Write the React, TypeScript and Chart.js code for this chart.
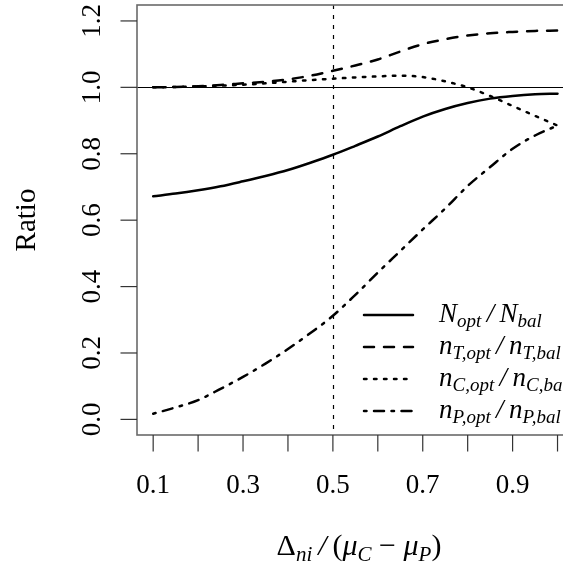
import React, { useEffect, useRef } from "react";
import { Chart, registerables } from "chart.js";
Chart.register(...registerables);

// ---------- data ----------
const xValues = [0.1, 0.15, 0.2, 0.25, 0.3, 0.35, 0.4, 0.45, 0.5, 0.55, 0.6, 0.65, 0.7, 0.75, 0.8, 0.85, 0.9, 0.95, 1.0];
const nTotalRatio = [0.672, 0.68, 0.69, 0.702, 0.717, 0.733, 0.751, 0.773, 0.797, 0.824, 0.852, 0.883, 0.912, 0.935, 0.953, 0.966, 0.974, 0.979, 0.981];
const nTRatio = [1.0, 1.001, 1.003, 1.007, 1.012, 1.017, 1.024, 1.035, 1.05, 1.066, 1.084, 1.108, 1.13, 1.145, 1.156, 1.163, 1.167, 1.17, 1.171];
const nCRatio = [1.0, 1.001, 1.003, 1.005, 1.008, 1.012, 1.017, 1.022, 1.026, 1.03, 1.033, 1.035, 1.031, 1.018, 1.0, 0.974, 0.944, 0.914, 0.885];
const nPRatio = [0.017, 0.036, 0.058, 0.092, 0.128, 0.168, 0.212, 0.26, 0.312, 0.375, 0.442, 0.507, 0.572, 0.635, 0.703, 0.76, 0.815, 0.855, 0.885];

const xTicks = [0.1, 0.2, 0.3, 0.4, 0.5, 0.6, 0.7, 0.8, 0.9, 1.0];
const xTickLabels = ["0.1", "", "0.3", "", "0.5", "", "0.7", "", "0.9", ""];
const yTicks = [0.0, 0.2, 0.4, 0.6, 0.8, 1.0, 1.2];
const yTickLabels = ["0.0", "0.2", "0.4", "0.6", "0.8", "1.0", "1.2"];
const refLineY = 1.0;
const refLineX = 0.5;
const yAxisTitle = "Ratio";

type Seg = { t: string; sub?: boolean; italic?: boolean };
const legendLabels: Seg[][] = [
  [{ t: "N", italic: true }, { t: "opt", sub: true }, { t: "\u2009/\u2009", italic: true }, { t: "N", italic: true }, { t: "bal", sub: true }],
  [{ t: "n", italic: true }, { t: "T,opt", sub: true }, { t: "\u2009/\u2009", italic: true }, { t: "n", italic: true }, { t: "T,bal", sub: true }],
  [{ t: "n", italic: true }, { t: "C,opt", sub: true }, { t: "\u2009/\u2009", italic: true }, { t: "n", italic: true }, { t: "C,bal", sub: true }],
  [{ t: "n", italic: true }, { t: "P,opt", sub: true }, { t: "\u2009/\u2009", italic: true }, { t: "n", italic: true }, { t: "P,bal", sub: true }],
];
const xAxisTitle: Seg[] = [
  { t: "Δ" }, { t: "ni", sub: true }, { t: "\u2009/\u2009", italic: true }, { t: "(" }, { t: "μ", italic: true }, { t: "C", sub: true },
  { t: " − " }, { t: "μ", italic: true }, { t: "P", sub: true }, { t: ")" },
];

const dashStyles: number[][] = [[], [10, 10], [2.5, 7.5], [2.5, 7.5, 10, 7.5]];

const FONT = '"Liberation Serif", "DejaVu Serif", serif';
const MAIN = 27;

function segFont(s: Seg, main: number, sub: number) {
  const size = s.sub ? sub : main;
  const it = s.italic || s.sub ? "italic " : "";
  return `${it}${size}px ${FONT}`;
}
function richWidth(ctx: CanvasRenderingContext2D, segs: Seg[], main: number, sub: number) {
  let w = 0;
  for (const s of segs) {
    ctx.font = segFont(s, main, sub);
    w += ctx.measureText(s.t).width;
  }
  return w;
}
function drawRich(ctx: CanvasRenderingContext2D, segs: Seg[], x: number, y: number, main: number, sub: number, off: number) {
  let cx = x;
  ctx.textAlign = "left";
  ctx.textBaseline = "alphabetic";
  for (const s of segs) {
    ctx.font = segFont(s, main, sub);
    ctx.fillText(s.t, cx, s.sub ? y + off : y);
    cx += ctx.measureText(s.t).width;
  }
}

const rPlotPlugin = {
  id: "rPlot",
  beforeDatasetsDraw(chart: any) {
    const ctx: CanvasRenderingContext2D = chart.ctx;
    const { left, right, top, bottom } = chart.chartArea;
    const xs = chart.scales.x;
    const ys = chart.scales.y;
    ctx.save();
    ctx.strokeStyle = "#000";
    ctx.lineWidth = 1;
    const yy = Math.round(ys.getPixelForValue(refLineY)) + 0.5;
    ctx.beginPath();
    ctx.moveTo(left, yy);
    ctx.lineTo(right, yy);
    ctx.stroke();
    const xx = Math.round(xs.getPixelForValue(refLineX)) + 0.5;
    ctx.setLineDash([4, 6]);
    ctx.lineWidth = 1.2;
    ctx.beginPath();
    ctx.moveTo(xx, top);
    ctx.lineTo(xx, bottom);
    ctx.stroke();
    ctx.restore();
  },
  afterDraw(chart: any) {
    const ctx: CanvasRenderingContext2D = chart.ctx;
    const { left, right, top, bottom } = chart.chartArea;
    const xs = chart.scales.x;
    const ys = chart.scales.y;
    ctx.save();
    // box
    ctx.strokeStyle = "#6a6a6a";
    ctx.lineWidth = 1.6;
    ctx.strokeRect(left, top, right - left, bottom - top);
    // x ticks
    ctx.strokeStyle = "#333";
    ctx.lineWidth = 1.2;
    ctx.fillStyle = "#000";
    xTicks.forEach((v, i) => {
      const px = xs.getPixelForValue(v);
      ctx.beginPath();
      ctx.moveTo(px, bottom);
      ctx.lineTo(px, bottom + 16.5);
      ctx.stroke();
      if (xTickLabels[i]) {
        ctx.font = `${MAIN}px ${FONT}`;
        ctx.textAlign = "center";
        ctx.textBaseline = "alphabetic";
        ctx.fillText(xTickLabels[i], px, 493);
      }
    });
    // y ticks
    yTicks.forEach((v, i) => {
      const py = ys.getPixelForValue(v);
      ctx.beginPath();
      ctx.moveTo(left, py);
      ctx.lineTo(left - 16.5, py);
      ctx.stroke();
      ctx.save();
      ctx.translate(100, py);
      ctx.rotate(-Math.PI / 2);
      ctx.font = `${MAIN}px ${FONT}`;
      ctx.textAlign = "center";
      ctx.textBaseline = "alphabetic";
      ctx.fillText(yTickLabels[i], 0, 0);
      ctx.restore();
    });
    // y title
    ctx.save();
    ctx.translate(35, (top + bottom) / 2);
    ctx.rotate(-Math.PI / 2);
    ctx.font = `${MAIN + 2}px ${FONT}`;
    ctx.textAlign = "center";
    ctx.textBaseline = "alphabetic";
    ctx.fillText(yAxisTitle, 0, 0);
    ctx.restore();
    // x title
    const tw = richWidth(ctx, xAxisTitle, 30, 21);
    drawRich(ctx, xAxisTitle, 359 - tw / 2, 555, 30, 21, 6);
    // legend
    const legendY = [315, 347, 379, 411];
    legendLabels.forEach((segs, i) => {
      const y = legendY[i];
      ctx.strokeStyle = "#000";
      ctx.lineWidth = 2.5;
      ctx.lineCap = "round";
      ctx.setLineDash(dashStyles[i]);
      ctx.beginPath();
      ctx.moveTo(364, y);
      ctx.lineTo(413, y);
      ctx.stroke();
      ctx.setLineDash([]);
      ctx.fillStyle = "#000";
      drawRich(ctx, segs, 439, y + 7, 27, 19, 5);
    });
    ctx.restore();
  },
};

export default function App() {
  const ref = useRef<HTMLCanvasElement | null>(null);
  useEffect(() => {
    if (!ref.current) return;
    const mk = (data: number[], i: number) => ({
      data: xValues.map((x, k) => ({ x, y: data[k] })),
      borderColor: "#000",
      borderWidth: 2.5,
      borderDash: dashStyles[i],
      borderCapStyle: "round" as const,
      pointRadius: 0,
      fill: false,
      cubicInterpolationMode: "monotone" as const,
    });
    const chart = new Chart(ref.current, {
      type: "line",
      data: {
        datasets: [mk(nTotalRatio, 0), mk(nTRatio, 1), mk(nCRatio, 2), mk(nPRatio, 3)],
      },
      options: {
        animation: false,
        responsive: false,
        devicePixelRatio: 1,
        layout: { padding: { left: 137, top: 5, right: 26.3, bottom: 131 } },
        plugins: { legend: { display: false }, tooltip: { enabled: false } },
        scales: {
          x: { type: "linear", min: 0.064, max: 1.036, display: false },
          y: { type: "linear", min: -0.047, max: 1.248, display: false },
        },
      },
      plugins: [rPlotPlugin],
    });
    return () => chart.destroy();
  }, []);
  return (
    <div style={{ position: "absolute", left: 0, top: 0, width: 563, height: 566, overflow: "hidden", background: "#fff" }}>
      <canvas ref={ref} width={600} height={566} style={{ display: "block", width: 600, height: 566 }} />
    </div>
  );
}
